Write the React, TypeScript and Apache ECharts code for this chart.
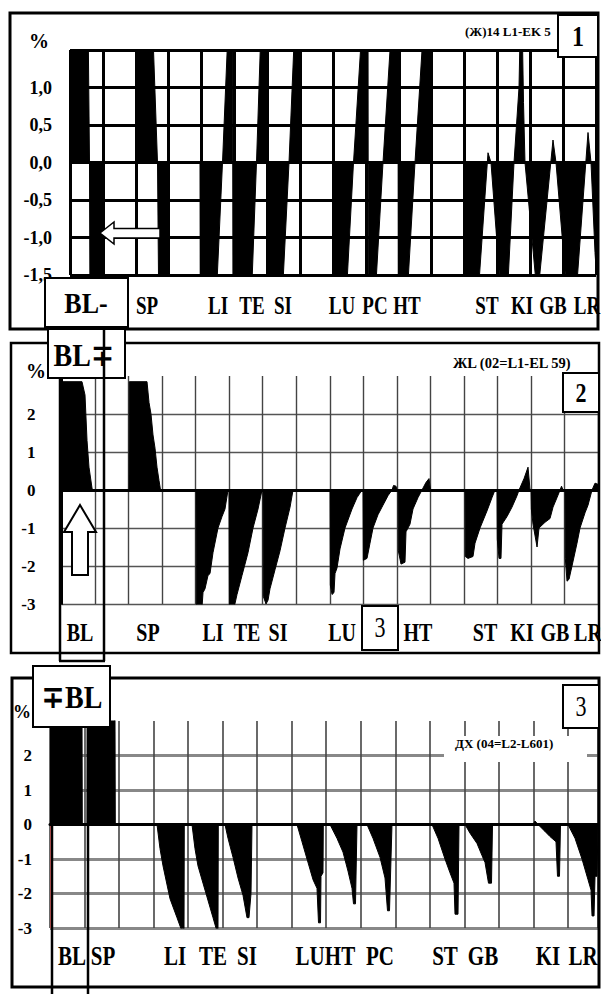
import React, { useEffect, useRef } from "react";
import * as echarts from "echarts";

// ---------- data (x in grid-column units, y in %) ----------
const P1_POINTS: [number, number][] = [
  [0, 2], [0.548, 2], [0.593, 0], [0.608, -2], [0.973, -2], [0.989, 0],
  [2.038, 0], [2.047, 2], [2.525, 2], [2.54, 1.5], [2.662, 0], [2.692, -1.5], [2.707, -2], [2.951, -2], [2.966, 0],
  [3.954, 0], [3.963, -2], [4.441, -2], [4.471, -1.6], [4.639, 0], [4.791, 1.6], [4.821, 2], [4.943, 2], [4.958, -2],
  [5.506, -2], [5.536, -1.6], [5.673, 0], [5.795, 1.6], [5.825, 2], [5.992, 2], [6.002, -2],
  [6.449, -2], [6.479, -1.6], [6.662, 0], [6.814, 1.6], [6.844, 2], [6.996, 2], [7.005, 0],
  [8.0, 0], [8.009, -2], [8.395, -2], [8.426, -1.6], [8.624, 0], [8.852, 1.6], [8.882, 2], [9.065, 2], [9.074, -2],
  [9.278, -2], [9.308, -1.6], [9.521, 0], [9.749, 1.6], [9.779, 2], [9.977, 2], [9.986, -2],
  [10.251, -2], [10.281, -1.6], [10.494, 0], [10.722, 1.6], [10.753, 2], [11.011, 2], [11.02, 0],
  [12.015, 0], [12.024, -2], [12.411, -2], [12.441, -1.6], [12.715, 0.13], [12.806, 0], [13.08, -1.6], [13.11, -2],
  [13.293, -2], [13.323, -1.6], [13.506, 0], [13.658, 1.0], [13.703, 2], [13.749, 2], [13.795, 0.8], [13.84, 0],
  [14.175, -1.6], [14.19, -2], [14.251, -2], [14.266, -1.6], [14.692, 0.3], [14.783, 0], [15.087, -1.6], [15.118, -2],
  [15.392, -2], [15.422, -1.6], [15.757, 0.4], [15.848, 0], [15.97, -1.2], [16, -1.4],
];

const P2_POINTS: [number, number][] = [
  [0, 2.85], [0.611, 2.85], [0.701, 2.5], [0.761, 1.3], [0.82, 0.6], [0.91, 0.05], [0.925, 0],
  [2.013, 0], [2.022, 2.85], [2.55, 2.85], [2.61, 2.3], [2.669, 2.0], [2.729, 1.45], [2.789, 1.1], [2.848, 0.6], [2.908, 0.25], [2.953, 0],
  [4.011, 0], [4.02, -3.1], [4.19, -3.1], [4.22, -2.7], [4.28, -2.6], [4.369, -2.25], [4.429, -2.2], [4.518, -1.65], [4.667, -1.0], [4.787, -0.7], [4.876, -0.5], [4.966, 0],
  [4.995, 0], [5.004, -3.1], [5.145, -3.1], [5.234, -2.75], [5.383, -2.25], [5.562, -1.65], [5.712, -1.0], [5.861, -0.5], [5.98, 0],
  [6.01, 0], [6.019, -2.8], [6.099, -3.0], [6.159, -2.9], [6.218, -2.6], [6.367, -2.1], [6.517, -1.6], [6.666, -1.0], [6.816, -0.45], [6.905, 0],
  [8.008, 0], [8.017, -2.5], [8.068, -2.75], [8.127, -2.7], [8.157, -2.2], [8.217, -2.05], [8.306, -1.55], [8.455, -1.0], [8.664, -0.5], [8.813, -0.2], [8.962, 0],
  [8.992, 0], [9.001, -1.85], [9.111, -1.8], [9.2, -1.4], [9.29, -1.0], [9.439, -0.65], [9.588, -0.4], [9.737, -0.15], [9.857, 0], [9.902, 0.12], [9.976, 0.1], [10.006, 0],
  [10.036, 0], [10.045, -1.6], [10.125, -1.95], [10.244, -1.9], [10.274, -1.1], [10.393, -0.9], [10.483, -0.5], [10.632, -0.2], [10.751, 0], [10.87, 0.2], [10.96, 0.3], [11.005, 0],
  [12.034, 0], [12.043, -1.75], [12.123, -1.8], [12.272, -1.75], [12.332, -1.4], [12.481, -1.0], [12.69, -0.55], [12.839, -0.2], [12.928, 0],
  [12.988, 0], [12.997, -1.3], [13.048, -1.8], [13.107, -1.8], [13.137, -0.9], [13.286, -0.7], [13.436, -0.45], [13.585, -0.15], [13.645, 0], [13.794, 0.3], [13.913, 0.6], [13.973, 0],
  [14.003, 0], [14.012, -0.5], [14.062, -0.9], [14.182, -1.5], [14.241, -1.0], [14.42, -0.85], [14.569, -0.75], [14.659, -0.45], [14.778, -0.2], [14.868, 0], [14.912, 0.1], [14.957, 0],
  [15.016, 0], [15.025, -1.8], [15.076, -2.4], [15.136, -2.35], [15.225, -2.0], [15.374, -1.4], [15.464, -1.0], [15.613, -0.6], [15.702, -0.4], [15.822, 0], [15.911, 0.18], [16, 0.15],
];

const P3_POINTS: [number, number][] = [
  [0, 3.2], [0.927, 3.2], [0.935, 0], [1.072, 0], [1.08, 3.2], [1.882, 3.2], [1.891, 0],
  [3.099, 0], [3.186, -0.7], [3.273, -1.2], [3.475, -2.15], [3.678, -2.7], [3.823, -3.1], [3.881, -3.1], [3.889, 0],
  [4.112, 0], [4.199, -0.7], [4.286, -1.2], [4.547, -2.1], [4.721, -2.7], [4.836, -3.1], [4.865, -3.1], [4.874, 0],
  [5.068, 0], [5.155, -0.4], [5.3, -0.95], [5.445, -1.55], [5.589, -2.05], [5.705, -2.7], [5.763, -2.7], [5.821, -2.0], [5.85, 0],
  [7.153, 0], [7.298, -0.5], [7.443, -1.0], [7.617, -1.6], [7.732, -1.85], [7.776, -2.85], [7.834, -2.85], [7.848, -1.5], [7.906, -1.4], [7.915, 0],
  [8.109, 0], [8.311, -0.4], [8.485, -0.8], [8.63, -1.35], [8.746, -1.85], [8.789, -2.3], [8.847, -2.3], [8.891, 0],
  [9.18, 0], [9.354, -0.4], [9.557, -0.95], [9.702, -1.55], [9.774, -2.5], [9.832, -2.5], [9.875, -1.0], [9.904, 0],
  [11.063, 0], [11.237, -0.4], [11.439, -1.0], [11.584, -1.4], [11.7, -1.7], [11.729, -2.6], [11.816, -2.6], [11.845, 0],
  [12.019, 0], [12.163, -0.25], [12.366, -0.55], [12.511, -0.9], [12.598, -1.1], [12.699, -1.7], [12.786, -1.7], [12.815, 0],
  [13.988, 0], [14.046, 0.1], [14.133, 0], [14.335, -0.2], [14.48, -0.35], [14.654, -0.5], [14.697, -1.5], [14.755, -1.5], [14.784, 0],
  [15.001, 0], [15.204, -0.4], [15.407, -1.0], [15.581, -1.6], [15.668, -1.9], [15.697, -2.65], [15.755, -2.65], [15.784, -1.5], [15.842, -1.5], [15.87, 0],
];

const P1_LABELS = ["SP", "LI", "TE", "SI", "LU", "PC", "HT", "ST", "KI", "GB", "LR"];
const P1_LABEL_AT = [2.342, 4.502, 5.536, 6.479, 8.274, 9.278, 10.251, 12.684, 13.749, 14.692, 15.726];
const P2_LABELS = ["BL", "SP", "LI", "TE", "SI", "LU", "PC", "HT", "ST", "KI", "GB", "LR"];
const P2_LABEL_AT = [0.552, 2.58, 4.518, 5.532, 6.457, 8.366, 9.5, 10.632, 12.631, 13.734, 14.718, 15.702];
const P3_LABELS = ["BL", "SP", "LI", "TE", "SI", "LU", "HT", "PC", "ST", "GB", "KI", "LR"];
const P3_LABEL_AT = [0.637, 1.535, 3.62, 4.721, 5.705, 7.53, 8.398, 9.557, 11.439, 12.54, 14.422, 15.436];

const TITLES = ["(Ж)14 L1-EK 5", "ЖL (02=L1-EL 59)", "ДХ (04=L2-L601)"];
const PANEL_NUMBERS = ["1", "2", "3"];

// ---------- layout ----------
const FONT = '"Liberation Serif", "Times New Roman", "DejaVu Serif", serif';
const GRIDS = [
  { left: 70, top: 50, width: 526, height: 225, xMax: 16, yMin: -1.5, yMax: 1.5, yStep: 0.5 },
  { left: 61.5, top: 376, width: 536.5, height: 228, xMax: 16, yMin: -3, yMax: 3, yStep: 1 },
  { left: 50, top: 721, width: 548, height: 207, xMax: 15.87, yMin: -3, yMax: 3, yStep: 1 },
];

function txt(x: number, y: number, text: string, size: number, o: any = {}) {
  const align = o.align || "center";
  return {
    type: "text",
    x,
    y,
    scaleY: o.sy || 1,
    z: o.z || 97,
    silent: true,
    style: {
      text,
      fontSize: size,
      fontFamily: FONT,
      fontWeight: o.weight || "bold",
      fill: "#000",
      align,
      verticalAlign: "middle",
      textAlign: align,
      textVerticalAlign: "middle",
    },
  };
}
function box(x: number, y: number, w: number, h: number, lw = 2, z = 100, fill = "#fff", stroke = "#000") {
  return { type: "rect", z, silent: true, shape: { x, y, width: w, height: h }, style: { fill, stroke, lineWidth: lw } };
}
function ln(x1: number, y1: number, x2: number, y2: number, w = 2.5, z = 102) {
  return { type: "line", z, silent: true, shape: { x1, y1, x2, y2 }, style: { stroke: "#000", lineWidth: w } };
}
function poly(points: number[][], lw = 1.5, z = 100) {
  return { type: "polygon", z, silent: true, shape: { points }, style: { fill: "#fff", stroke: "#000", lineWidth: lw } };
}

function buildOption() {
  const yLabel = (i: number) => ({
    fontFamily: FONT,
    fontWeight: "bold",
    fontSize: i === 0 ? 18 : 17,
    color: "#000",
    margin: i === 1 ? 26 : 18,
    formatter: (v: number) => {
      if (i === 0) return Math.abs(v - 1.5) < 1e-9 ? "" : v.toFixed(1).replace(".", ",");
      return v >= 3 || !Number.isInteger(v) ? "" : String(v);
    },
  });
  const xSplit = [
    { color: "#000", width: 3 },
    { color: "#444", width: 1.4 },
    { color: "#444", width: 1.6 },
  ];
  const ySplit = [
    { color: "#000", width: 3 },
    { color: "#555", width: 1.4 },
    { color: "#888", width: 3 },
  ];
  const points = [P1_POINTS, P2_POINTS, P3_POINTS];
  return {
    animation: false,
    backgroundColor: "#fff",
    grid: GRIDS.map((g) => ({
      left: g.left,
      top: g.top,
      width: g.width,
      height: g.height,
      containLabel: false,
      outerBoundsMode: "none",
    })),
    xAxis: GRIDS.map((g, i) => ({
      gridIndex: i,
      type: "value",
      min: 0,
      max: g.xMax,
      interval: 1,
      axisLine: { show: i > 0, onZero: true, lineStyle: { color: "#000", width: 3 } },
      axisTick: { show: false },
      axisLabel: { show: false },
      splitLine: { show: true, lineStyle: xSplit[i] },
    })),
    yAxis: GRIDS.map((g, i) => ({
      gridIndex: i,
      type: "value",
      min: g.yMin,
      max: g.yMax,
      interval: g.yStep,
      axisLine: {
        show: i > 0,
        onZero: false,
        lineStyle: i === 2 ? { color: "#d96060", width: 1 } : { color: "#000", width: 2 },
      },
      axisTick: { show: false },
      axisLabel: yLabel(i),
      splitLine: { show: true, showMaxLine: i === 0, lineStyle: ySplit[i] },
    })),
    series: points.map((pts, i) => ({
      type: "line",
      xAxisIndex: i,
      yAxisIndex: i,
      data: pts,
      symbol: "none",
      showSymbol: false,
      clip: true,
      silent: true,
      z: 2,
      lineStyle: { color: "#000", width: 1 },
      areaStyle: { color: "#000", opacity: 1, origin: "auto" },
    })),
  };
}

function buildGraphics(chart: any) {
  const els: any[] = [];
  // panel borders
  els.push(box(10, 13, 588, 316, 3, 90, "transparent"));
  els.push(box(11, 343, 588, 310, 2.5, 90, "transparent"));
  els.push(box(12, 678, 587, 309, 3, 90, "transparent"));

  // titles
  els.push(txt(465, 31, TITLES[0], 13, { align: "left", z: 96 }));
  els.push(txt(453, 363, TITLES[1], 14.5, { align: "left", z: 96 }));
  els.push(box(444, 736, 143, 26, 0, 95, "#fff", "transparent"));
  els.push(txt(455, 743, TITLES[2], 13, { align: "left", z: 96 }));

  // % signs
  els.push(txt(39, 41, "%", 20, { z: 96 }));
  els.push(txt(36, 371, "%", 20, { z: 96 }));
  els.push(txt(22, 712, "%", 18, { z: 96 }));

  // category labels via the x scales
  const labelSets = [
    { names: P1_LABELS, at: P1_LABEL_AT, y: 306, size: 19 },
    { names: P2_LABELS, at: P2_LABEL_AT, y: 632, size: 20 },
    { names: P3_LABELS, at: P3_LABEL_AT, y: 955, size: 21 },
  ];
  labelSets.forEach((s, i) => {
    s.names.forEach((n, k) => {
      const px = chart.convertToPixel({ xAxisIndex: i }, s.at[k]);
      els.push(txt(px, s.y, n, s.size, { sy: 1.3, z: 97 }));
    });
  });

  // panel number boxes
  els.push(box(558, 15, 40, 42));
  els.push(txt(578, 36, PANEL_NUMBERS[0], 24, { sy: 1.2, z: 101 }));
  els.push(box(563, 373, 36, 39));
  els.push(txt(581, 393, PANEL_NUMBERS[1], 22, { sy: 1.2, z: 101 }));
  els.push(box(563, 685, 36, 43));
  els.push(txt(581, 706, PANEL_NUMBERS[2], 22, { sy: 1.3, z: 101, weight: "normal" }));
  els.push(box(362, 606, 36, 44));
  els.push(txt(380, 627, "3", 22, { sy: 1.3, z: 101, weight: "normal" }));

  // annotation: panel 1
  els.push(box(45, 278, 83, 49));
  els.push(txt(86, 303, "BL-", 26, { sy: 1.15, z: 101 }));
  els.push(poly([[100, 233], [114, 222], [114, 228.5], [160, 228.5], [160, 238], [114, 238], [114, 244]], 1.5, 100));

  // annotation: panel 2
  els.push(box(48, 329, 77, 49));
  els.push(txt(84, 356, "BL∓", 28, { sy: 1.1, z: 101 }));
  els.push(ln(104, 329, 104, 661));
  els.push(ln(60, 378, 60, 661));
  els.push(ln(59, 661, 105, 661));
  els.push(poly([[80, 505], [96, 532], [88, 532], [88, 575], [72, 575], [72, 532], [64, 532]], 2, 100));

  // annotation: panel 3
  els.push(box(33, 666, 77, 61));
  els.push(txt(72, 697, "∓BL", 28, { sy: 1.15, z: 101 }));
  els.push(ln(52, 727, 52, 994));
  els.push(ln(88, 727, 88, 994));
  return els;
}

export default function App() {
  const ref = useRef<HTMLDivElement>(null);
  useEffect(() => {
    document.body.style.margin = "0";
    if (!ref.current) return;
    const chart = echarts.init(ref.current, null, { renderer: "svg" });
    chart.setOption(buildOption() as any);
    chart.setOption({ graphic: { elements: buildGraphics(chart) } } as any);
    return () => chart.dispose();
  }, []);
  return <div ref={ref} style={{ width: 601, height: 994, background: "#fff" }} />;
}
